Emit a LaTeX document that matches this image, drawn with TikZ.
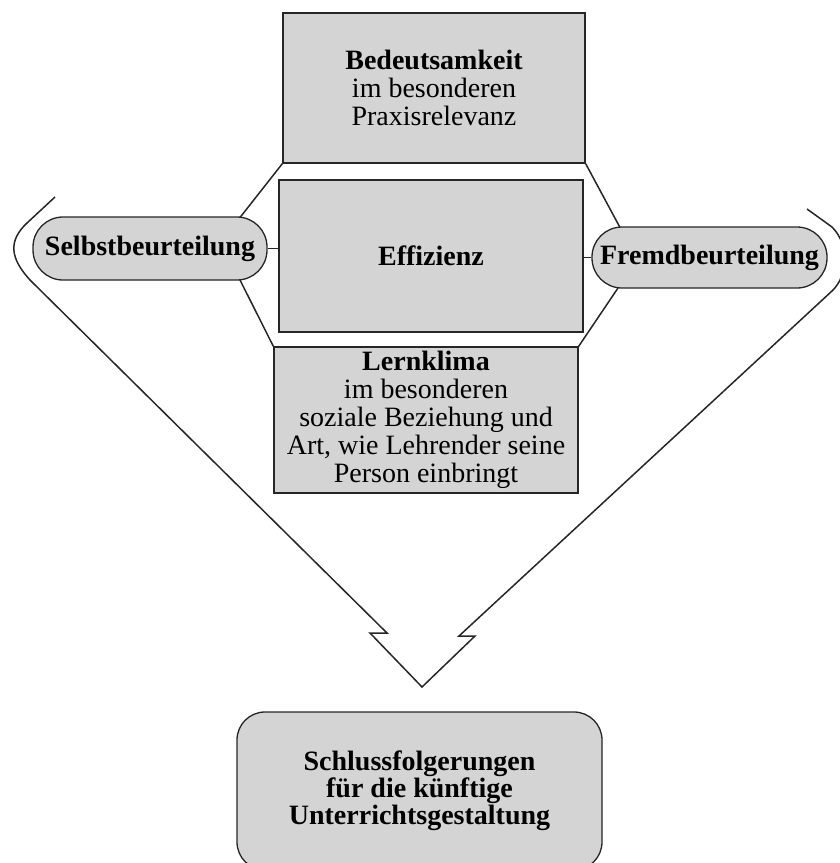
\documentclass[tikz,border=0pt]{standalone}
\usepackage{fontspec}
\setmainfont{Liberation Serif}
\begin{document}
\begin{tikzpicture}[x=1pt,y=-1pt,
  every node/.style={font=\fontsize{28}{28}\selectfont},
  boxstyle/.style={draw=black!85,line width=1.3pt,fill=black!17,align=center,inner sep=0pt},
  pillstyle/.style={boxstyle,rounded corners=30pt,font=\fontsize{28}{28}\selectfont\bfseries},
  vline/.style={line width=1.5pt,black!85,line join=miter}]
\useasboundingbox (0,0) rectangle (839,863);
% boxes
\node[boxstyle,minimum width=302pt,minimum height=150pt] (top) at (434,88)
  {\textbf{Bedeutsamkeit}\\im besonderen\\Praxisrelevanz};
\node[boxstyle,minimum width=304pt,minimum height=152pt] (eff) at (431,256)
  {\textbf{Effizienz}};
\node[boxstyle,minimum width=304pt,minimum height=146pt,text depth=6pt] (lern) at (426,420)
  {\textbf{Lernklima}\\im besonderen\\soziale Beziehung und\\Art, wie Lehrender seine\\Person einbringt};
\node[pillstyle,minimum width=234pt,minimum height=63pt] (selbst) at (150,248.5)
  {Selbstbeurteilung};
\node[pillstyle,minimum width=235pt,minimum height=61pt] (fremd) at (709.5,257.5)
  {Fremdbeurteilung};
\node[boxstyle,rounded corners=28pt,minimum width=365pt,minimum height=158pt,font=\fontsize{28}{27}\selectfont\bfseries] (schluss) at (419.5,791)
  {Schlussfolgerungen\\für die künftige\\Unterrichtsgestaltung};
% hexagon coordinates on pills
\coordinate (s1) at (240,217.5);
\coordinate (s2) at (240,280);
\coordinate (f1) at (620,227.5);
\coordinate (f2) at (618,288);
\draw[vline] (top.south west) -- (s1);
\draw[vline] (s2) -- (lern.north west);
\draw[vline] (top.south east) -- (f1);
\draw[vline] (f2) -- (lern.north east);
% connectors
\draw[vline] (selbst.east) -- (selbst.east -| eff.west);
\draw[vline] (fremd.west) -- (fremd.west -| eff.east);
% big arrow shape
\coordinate (tip) at (422,687);
\draw[vline] (55,197) -- (27,223) .. controls (8,241) and (10,258) .. (30,280)
  -- (387,633) -- (370,633) -- (tip) -- (475,636) -- (459,636) -- (832,291)
  .. controls (848,276) and (850,245) .. (832,227) -- (807,209);
\end{tikzpicture}
\end{document}
